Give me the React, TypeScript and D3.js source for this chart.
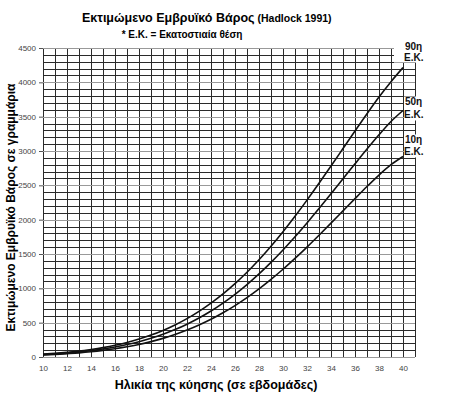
import React, { useEffect, useRef } from 'react';
import * as d3 from 'd3';

const weeks = d3.range(10, 41);
const p50 = [35, 45, 58, 73, 93, 117, 146, 181, 223, 273, 331, 399, 478, 568, 670, 785, 913, 1055, 1210, 1379, 1559, 1751, 1953, 2162, 2377, 2595, 2813, 3028, 3236, 3430, 3590];
const p90 = [41, 53, 68, 85, 109, 137, 171, 212, 261, 319, 387, 467, 559, 665, 784, 918, 1068, 1234, 1416, 1613, 1824, 2049, 2285, 2530, 2781, 3036, 3291, 3543, 3786, 4010, 4215];
const p10 = [29, 37, 48, 60, 76, 96, 120, 148, 183, 224, 271, 327, 392, 466, 549, 644, 749, 865, 992, 1131, 1278, 1436, 1601, 1773, 1949, 2128, 2307, 2483, 2650, 2800, 2920];
const xTicks = d3.range(10, 41, 2);
const yTicks = d3.range(0, 4501, 500);
const series = [
  { name: '90η', values: p90 },
  { name: '50η', values: p50 },
  { name: '10η', values: p10 },
];
// where each label sits relative to the curve end (px): [number line, Ε.Κ. line]
const labelOffsets = [[-18, -7], [-5, 8], [-13, -1]];

const FONT = '"Liberation Sans", Arial, sans-serif';

function FetalWeightChart() {
  const ref = useRef<SVGSVGElement>(null);

  useEffect(() => {
    const svg = d3.select(ref.current);
    svg.selectAll('*').remove();

    const x = d3.scaleLinear().domain([10, 40]).range([43, 403]);
    const y = d3.scaleLinear().domain([0, 4500]).range([357, 48]);

    svg.append('rect').attr('width', 450).attr('height', 399).attr('fill', '#fff');

    // grid: one column per week (to 41), one row per 100 g
    const grid = svg.append('g').attr('stroke', '#2a2a2a').attr('stroke-width', 1).attr('shape-rendering', 'crispEdges');
    grid.selectAll('line.v')
      .data(d3.range(10, 42))
      .join('line')
      .attr('class', 'v')
      .attr('x1', (d) => Math.round(x(d)) + 0.5)
      .attr('x2', (d) => Math.round(x(d)) + 0.5)
      .attr('y1', y(4500))
      .attr('y2', y(0));
    grid.selectAll('line.h')
      .data(d3.range(0, 4501, 100))
      .join('line')
      .attr('class', 'h')
      .attr('x1', x(10))
      .attr('x2', x(41))
      .attr('y1', (d) => Math.round(y(d)) + 0.5)
      .attr('y2', (d) => Math.round(y(d)) + 0.5)
      .attr('stroke', (d) => (d % 500 === 0 ? '#999' : '#2a2a2a'));

    // axes
    const yAxis = svg.append('g')
      .attr('transform', `translate(${x(10)},0)`)
      .call(d3.axisLeft(y).tickValues(yTicks).tickSize(4).tickPadding(3).tickFormat(d3.format('d')));
    yAxis.select('.domain').remove();
    yAxis.selectAll('line').attr('stroke', '#555');
    yAxis.selectAll('text').attr('font-family', FONT).attr('font-size', 8).attr('fill', '#444');

    const xAxis = svg.append('g')
      .attr('transform', `translate(0,${y(0)})`)
      .call(d3.axisBottom(x).tickValues(xTicks).tickSize(0).tickPadding(8));
    xAxis.select('.domain').remove();
    xAxis.selectAll('text').attr('font-family', FONT).attr('font-size', 8).attr('fill', '#444');

    // curves
    const line = d3.line<number>()
      .x((_, i) => x(weeks[i]))
      .y((d) => y(d))
      .curve(d3.curveMonotoneX);
    svg.append('g')
      .selectAll('path')
      .data(series)
      .join('path')
      .attr('d', (d) => line(d.values))
      .attr('fill', 'none')
      .attr('stroke', '#111')
      .attr('stroke-width', 1.6);

    // curve labels on white patches
    const lab = svg.append('g').attr('font-family', FONT).attr('font-weight', 'bold').attr('font-size', 10).attr('fill', '#111');
    series.forEach((s, i) => {
      const yy = y(s.values[s.values.length - 1]);
      const [o1, o2] = labelOffsets[i];
      const gx = x(40) + 1;
      lab.append('rect').attr('x', i === 0 ? gx - 10 : gx).attr('y', yy + o1 - 9).attr('width', i === 0 ? 40 : 30).attr('height', o2 - o1 + 11).attr('fill', '#fff');
      lab.append('text').attr('x', gx + 1).attr('y', yy + o1).text(s.name);
      lab.append('text').attr('x', gx).attr('y', yy + o2).text('Ε.Κ.');
    });

    // titles
    svg.append('text')
      .attr('x', 82).attr('y', 22)
      .attr('font-family', FONT).attr('font-weight', 'bold').attr('font-size', 12.5)
      .text('Εκτιμώμενο Εμβρυϊκό Βάρος')
      .append('tspan').attr('font-size', 10.5).text('  (Hadlock 1991)');
    svg.append('text')
      .attr('x', 182).attr('y', 38).attr('text-anchor', 'middle')
      .attr('font-family', FONT).attr('font-weight', 'bold').attr('font-size', 10)
      .text('* Ε.Κ. = Εκατοστιαία θέση');
    svg.append('text')
      .attr('transform', `translate(15,${(y(0) + y(4500)) / 2 + 5}) rotate(-90)`)
      .attr('text-anchor', 'middle')
      .attr('font-family', FONT).attr('font-weight', 'bold').attr('font-size', 12)
      .text('Εκτιμώμενο Εμβρυϊκό Βάρος σε γραμμάρια');
    svg.append('text')
      .attr('x', 216).attr('y', 389).attr('text-anchor', 'middle')
      .attr('font-family', FONT).attr('font-weight', 'bold').attr('font-size', 12.5)
      .text('Ηλικία της κύησης (σε εβδομάδες)');
  }, []);

  return <svg ref={ref} width={450} height={399} style={{ position: 'absolute', left: 0, top: 0 }}></svg>;
}

export default function App() {
  return <FetalWeightChart />;
}
